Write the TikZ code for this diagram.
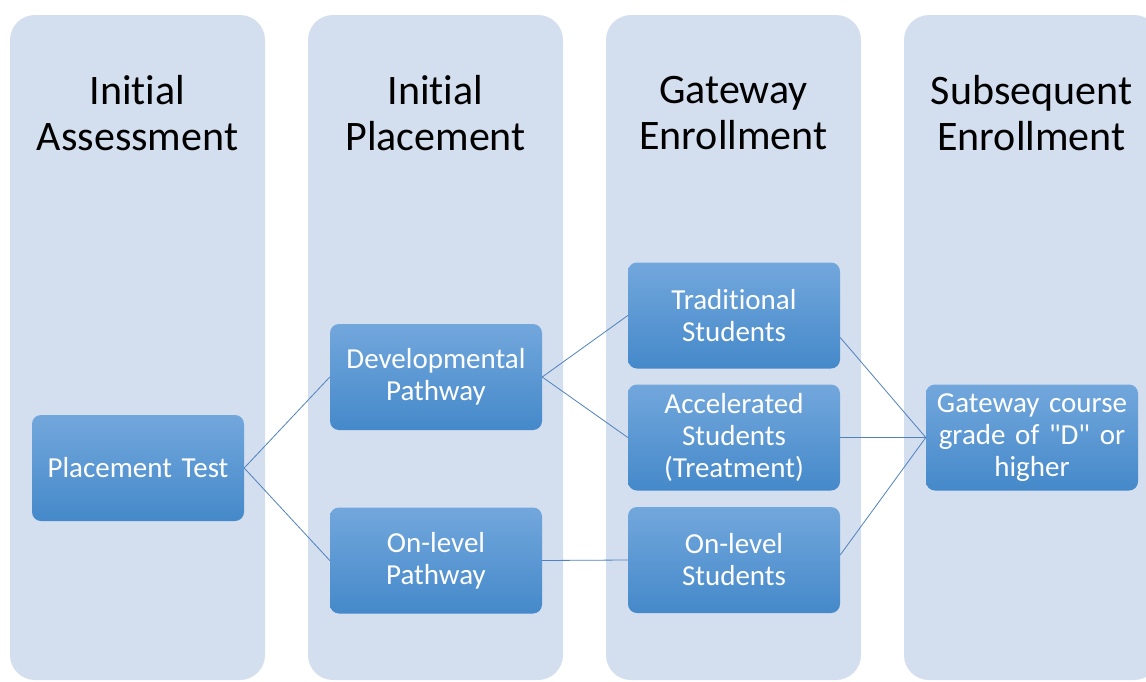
\documentclass[tikz,border=0pt]{standalone}
\usepackage{fontspec}
\defaultfontfeatures{}
\defaultfontfeatures[\rmfamily]{}
\setmainfont{Carlito}[RawFeature={-liga;-clig;-calt;-dlig;-rlig}]
\usetikzlibrary{shapes.geometric}
\definecolor{lanebg}{RGB}{211,222,239}
\definecolor{boxtop}{RGB}{114,167,220}
\definecolor{boxbot}{RGB}{69,137,202}
\definecolor{linkc}{RGB}{79,129,189}
\tikzstyle{lane} = [fill=lanebg, rounded corners=25pt]
\tikzstyle{title} = [align=center, text centered, font=\fontsize{42}{46}\selectfont]
\tikzstyle{stagebox} = [rectangle, rounded corners=9pt, minimum width=212pt, minimum height=106pt, text width=205pt, inner sep=2pt, align=center, text=white, top color=boxtop, bottom color=boxbot, font=\fontsize{29}{32}\selectfont]
\tikzstyle{link} = [draw=linkc, line width=0.8pt]

\begin{document}
\begin{tikzpicture}[x=1pt,y=-1pt]
        \clip (0,0) rectangle (1146,681);
        \path [lane] (10,15) rectangle (265,680);
        \path [lane] (308,15) rectangle (563,680);
        \path [lane] (606,15) rectangle (861,680);
        \path [lane] (904,15) rectangle (1159,680);
        \node [title] at (137.5,113) (t1) {Initial\\Assessment};
        \node [title] at (435.5,113) (t2) {Initial\\Placement};
        \node [title] at (733.5,113) (t3) {Gateway\\Enrollment};
        \node [title] at (1031.5,113) (t4) {Subsequent\\Enrollment};
        \node [stagebox] at (138,468) (test) {Placement Test};
        \node [stagebox] at (436,377) (dev) {Developmental\\Pathway};
        \node [stagebox] at (436,560.5) (onp) {On-level\\Pathway};
        \node [stagebox] at (734,315.5) (trad) {Traditional\\Students};
        \node [stagebox] at (734,437.5) (acc) {Accelerated\\Students\\(Treatment)};
        \node [stagebox] at (734,560) (ons) {On-level\\Students};
        \node [stagebox] at (1032,437.5) (gate) {Gateway course\\grade of "D" or\\higher};
        \draw [link] (test.east) -- (dev.west);
        \draw [link] (test.east) -- (onp.west);
        \draw [link] (dev.east) -- (trad.west);
        \draw [link] (dev.east) -- (acc.west);
        \draw [link] (onp.east) -- (ons.west);
        \draw [link] ([yshift=-22pt]trad.east) -- (gate.west);
        \draw [link] (acc.east) -- (gate.west);
        \draw [link] ([yshift=5pt]ons.east) -- (gate.west);
\end{tikzpicture}
\end{document}
